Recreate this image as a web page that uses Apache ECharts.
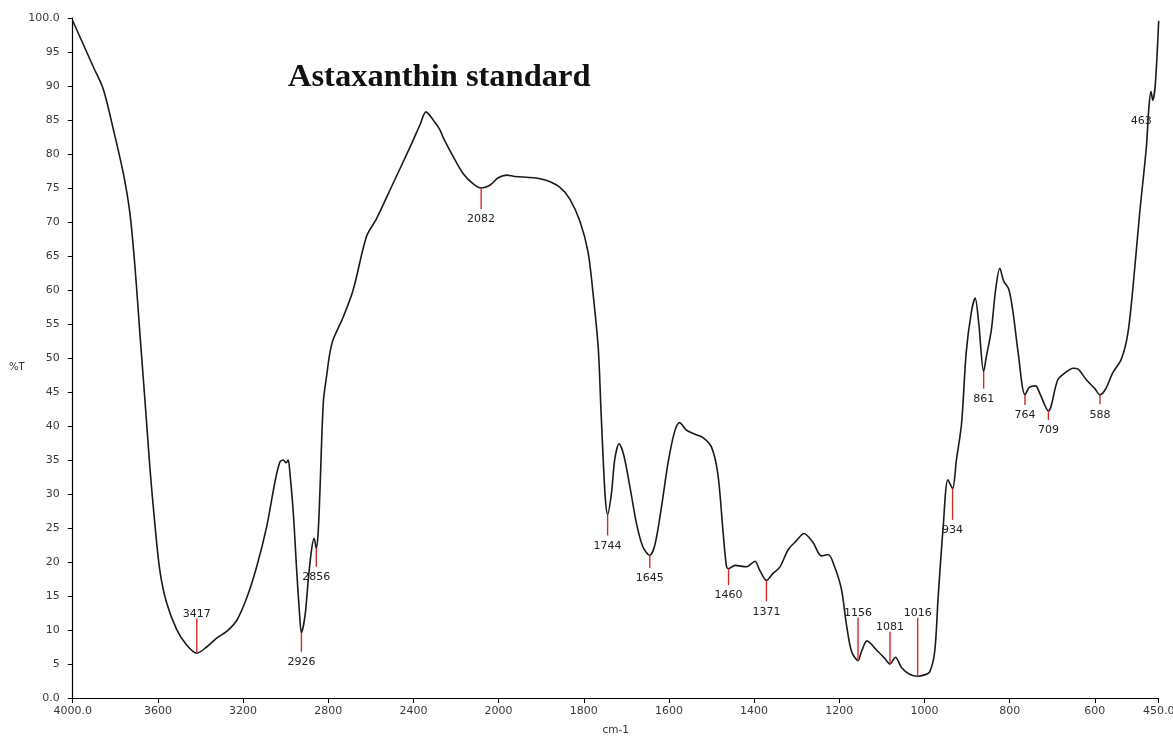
<!DOCTYPE html>
<html>
<head>
<meta charset="utf-8">
<title>Astaxanthin standard – FTIR</title>
<script src="https://cdn.jsdelivr.net/npm/echarts@6/dist/echarts.min.js"></script>
<style>
  html, body { margin: 0; padding: 0; background: #fff; }
  #chart { width: 1173px; height: 738px; }
</style>
</head>
<body>
<div id="chart"></div>
<script>
// FTIR spectrum of the astaxanthin standard (wavenumber in cm-1, transmittance in %T)
const wavenumber = [
  4000, 3950, 3903, 3856, 3809, 3762, 3731, 3707, 3684, 3660,
  3637, 3613, 3590, 3559, 3512, 3465, 3417, 3371, 3324, 3277,
  3230, 3183, 3136, 3089, 3050, 3027, 3011, 2998, 2988, 2980,
  2964, 2948, 2935, 2926, 2909, 2894, 2878, 2866, 2856, 2847,
  2839, 2823, 2807, 2792, 2776, 2730, 2683, 2620, 2573, 2495,
  2416, 2369, 2341, 2307, 2276, 2260, 2213, 2166, 2119, 2082,
  2041, 2002, 1981, 1962, 1919, 1887, 1856, 1833, 1809, 1790,
  1778, 1766, 1760, 1754, 1749, 1744, 1735, 1727, 1717, 1706,
  1692, 1676, 1661, 1645, 1633, 1618, 1602, 1587, 1575, 1559,
  1539, 1520, 1500, 1485, 1473, 1465, 1460, 1445, 1418, 1398,
  1387, 1371, 1356, 1340, 1320, 1301, 1283, 1262, 1242, 1226,
  1211, 1195, 1183, 1171, 1156, 1148, 1135, 1113, 1093, 1081,
  1068, 1054, 1035, 1016, 1000, 988, 976, 968, 956, 945,
  934, 925, 913, 902, 890, 881, 873, 861, 855, 843,
  833, 823, 814, 802, 792, 780, 764, 753, 739, 730,
  709, 687, 670, 651, 640, 620, 600, 588, 575, 558,
  538, 523, 511, 495, 479, 473, 468, 464, 458, 450
];
const transmittance = [
  99.6, 96.1, 92.8, 89.5, 83.6, 77.1, 71.2, 63.2, 53.4, 43.5,
  33.7, 25.2, 18.6, 14.0, 10.1, 7.8, 6.6, 7.5, 8.8, 9.8,
  11.4, 14.7, 19.3, 25.2, 31.8, 34.7, 35.0, 34.6, 35.0, 33.1,
  27.2, 18.7, 12.5, 9.6, 12.1, 17.3, 21.9, 23.5, 22.0, 24.5,
  30.4, 43.5, 47.5, 50.8, 52.8, 56.0, 60.0, 67.9, 70.5, 75.7,
  81.0, 84.3, 86.2, 85.0, 83.6, 82.4, 79.6, 77.1, 75.6, 75.0,
  75.4, 76.5, 76.9, 76.7, 76.5, 76.1, 75.1, 73.4, 70.1, 65.6,
  59.4, 51.5, 43.0, 34.6, 29.0, 27.0, 30.1, 35.2, 37.4, 35.7,
  31.2, 25.6, 22.2, 21.0, 22.5, 27.9, 34.6, 39.1, 40.5, 39.4,
  38.8, 38.3, 36.9, 32.9, 24.5, 19.4, 19.0, 19.5, 19.3, 20.1,
  18.8, 17.3, 18.3, 19.2, 21.8, 23.1, 24.2, 22.9, 20.9, 21.1,
  19.3, 16.0, 10.7, 6.8, 5.5, 6.8, 8.4, 7.1, 5.8, 5.0,
  6.0, 4.5, 3.5, 3.2, 3.4, 3.8, 6.8, 14.7, 25.2, 32.1,
  30.8, 35.0, 40.3, 50.8, 56.7, 58.8, 55.4, 48.0, 50.1, 54.1,
  60.0, 63.2, 61.3, 60.1, 56.7, 50.8, 44.6, 45.7, 45.9, 44.9,
  42.2, 46.8, 47.8, 48.5, 48.4, 46.8, 45.5, 44.6, 45.4, 47.8,
  49.8, 53.4, 60.0, 71.1, 81.0, 86.9, 89.2, 87.9, 90.2, 99.6
];

// Labelled absorption bands: position, %T level where the label sits, label side
const peakWavenumbers = [3417, 2926, 2856, 2082, 1744, 1645, 1460, 1371, 1156, 1081, 1016, 934, 861, 764, 709, 588, 463];
const peakLabelLevel  = [11.7, 6.8, 19.3, 71.9, 23.9, 19.1, 16.6, 14.2, 11.8, 9.75, 11.8, 26.2, 45.5, 43.1, 40.9, 43.2, 84.9];
const peakLabelSide   = ['above', 'below', 'below', 'below', 'below', 'below', 'below', 'below', 'above', 'above', 'above', 'below', 'below', 'below', 'below', 'below', 'left'];

// Axis: 400 cm-1 per division above 2000, 200 cm-1 per division below it
const xTickWavenumbers = [4000, 3600, 3200, 2800, 2400, 2000, 1800, 1600, 1400, 1200, 1000, 800, 600, 450];
const yTickLabels = { 100: '100.0', 0: '0.0' };

function toAxis(wn) {
  return wn >= 2000 ? (4000 - wn) / 400 : 5 + (2000 - wn) / 200;
}
function fromAxis(u) {
  return u <= 5 ? 4000 - 400 * u : 2000 - 200 * (u - 5);
}
function curveAt(wn) {
  for (let i = 0; i < wavenumber.length - 1; i++) {
    const a = wavenumber[i], b = wavenumber[i + 1];
    if (wn <= a && wn >= b) {
      const t = (a - wn) / (a - b);
      return transmittance[i] + t * (transmittance[i + 1] - transmittance[i]);
    }
  }
  return transmittance[transmittance.length - 1];
}

const spectrum = wavenumber.map((wn, i) => [toAxis(wn), transmittance[i]]);
const peaks = peakWavenumbers.map((wn, i) => [toAxis(wn), curveAt(wn), peakLabelLevel[i]]);
const xMax = toAxis(xTickWavenumbers[xTickWavenumbers.length - 1]);

const labelFont = '"DejaVu Sans", Verdana, sans-serif';

const chart = echarts.init(document.getElementById('chart'), null, { renderer: 'canvas' });
chart.setOption({
  animation: false,
  backgroundColor: '#ffffff',
  title: {
    text: 'Astaxanthin standard',
    left: 283,
    top: 56,
    textStyle: {
      fontFamily: '"Liberation Serif", "Times New Roman", serif',
      fontWeight: 'bold',
      fontSize: 32.5,
      color: '#111'
    }
  },
  graphic: [
    {
      type: 'text',
      left: 9,
      top: 362,
      style: { text: '%T', fontFamily: labelFont, fontSize: 10, fill: '#333' }
    }
  ],
  grid: { left: 72.7, right: 14.3, top: 18, bottom: 40, outerBoundsMode: 'none', containLabel: false },
  xAxis: {
    type: 'value',
    min: 0,
    max: xMax,
    interval: 1,
    name: 'cm-1',
    nameLocation: 'middle',
    nameGap: 27,
    nameTextStyle: { fontFamily: labelFont, fontSize: 10.5, color: '#333' },
    splitLine: { show: false },
    axisLine: { lineStyle: { color: '#000', width: 1.2 } },
    axisTick: { length: 5, lineStyle: { color: '#000' } },
    axisLabel: {
      margin: 8,
      fontFamily: labelFont,
      fontSize: 11,
      color: '#3a3a3a',
      formatter: function (u) {
        const wn = Math.round(fromAxis(u));
        if (wn === 4000 || wn === 450) return wn.toFixed(1);
        return String(wn);
      }
    }
  },
  yAxis: {
    type: 'value',
    min: 0,
    max: 100,
    interval: 5,
    splitLine: { show: false },
    axisLine: { show: true, lineStyle: { color: '#000', width: 1.2 } },
    axisTick: { show: true, length: 5, lineStyle: { color: '#000' } },
    axisLabel: {
      margin: 13,
      fontFamily: labelFont,
      fontSize: 11,
      color: '#3a3a3a',
      formatter: function (v) {
        return yTickLabels[v] !== undefined ? yTickLabels[v] : String(v);
      }
    }
  },
  series: [
    {
      type: 'line',
      data: spectrum,
      showSymbol: false,
      smooth: 0.3,
      lineStyle: { color: '#1a1a1a', width: 1.6 },
      z: 2
    },
    {
      type: 'custom',
      data: peaks,
      clip: false,
      z: 3,
      renderItem: function (params, api) {
        const i = params.dataIndex;
        const u = api.value(0);
        const pCurve = api.coord([u, api.value(1)]);
        const pLabel = api.coord([u, api.value(2)]);
        const side = peakLabelSide[i];
        const text = String(peakWavenumbers[i]);
        const children = [];
        if (side !== 'left') {
          children.push({
            type: 'line',
            shape: { x1: pCurve[0], y1: pCurve[1], x2: pLabel[0], y2: pLabel[1] },
            style: { stroke: '#d42a2a', lineWidth: 1.4 }
          });
        }
        let tx = pLabel[0], ty, align = 'center', vAlign;
        if (side === 'above') { ty = pLabel[1] + 1; vAlign = 'bottom'; }
        else if (side === 'below') { ty = pLabel[1] + 5; vAlign = 'top'; }
        else { tx = pCurve[0] - 1.5; ty = pLabel[1]; align = 'right'; vAlign = 'middle'; }
        children.push({
          type: 'text',
          style: {
            text: text,
            x: tx,
            y: ty,
            align: align,
            verticalAlign: vAlign,
            fontFamily: labelFont,
            fontSize: 11,
            fill: '#222'
          }
        });
        return { type: 'group', children: children };
      }
    }
  ]
});
</script>
</body>
</html>
